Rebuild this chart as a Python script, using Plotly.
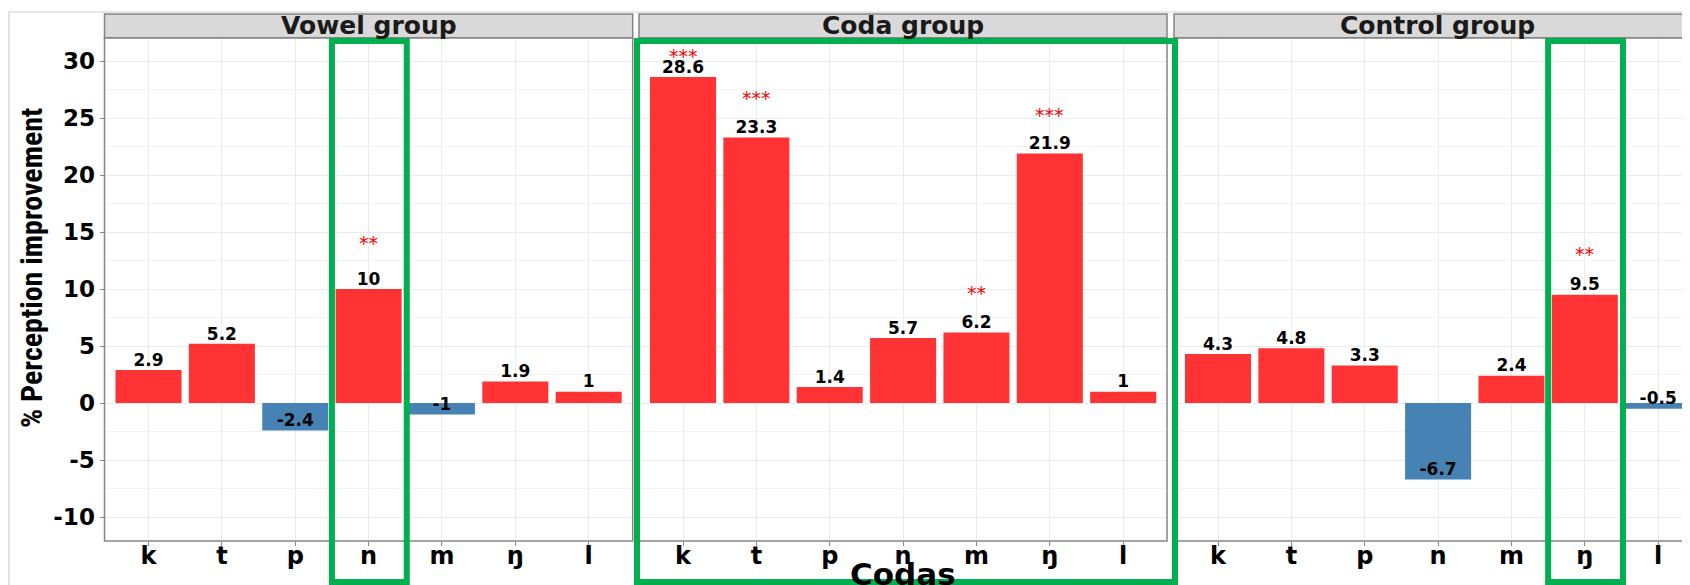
import plotly.graph_objects as go

# ---------------- data ----------------
codas = ['k', 't', 'p', 'n', 'm', 'ŋ', 'l']
groups = ['Vowel group', 'Coda group', 'Control group']

vowel_vals = [2.9, 5.2, -2.4, 10, -1, 1.9, 1]
coda_vals = [28.6, 23.3, 1.4, 5.7, 6.2, 21.9, 1]
control_vals = [4.3, 4.8, 3.3, -6.7, 2.4, 9.5, -0.5]

vowel_sig = ['', '', '', '**', '', '', '']
coda_sig = ['***', '***', '', '', '**', '***', '']
control_sig = ['', '', '', '', '', '**', '']

vowel_sig_y = [None, None, None, 14.4, None, None, None]
coda_sig_y = [30.8, 27.1, None, None, 10.0, 25.6, None]
control_sig_y = [None, None, None, None, None, 13.4, None]

y_ticks = [-10, -5, 0, 5, 10, 15, 20, 25, 30]

highlight = {0: 'n', 2: 'ŋ'}  # green boxes around single codas

# ---------------- style ----------------
W, H = 1690, 585
OFF = 8  # page body margin
RED = '#FF3333'
BLUE = '#4682B4'
GREEN = '#00B050'
BORDER = '#858585'
FONT = 'DejaVu Sans'

panel_px = [(104.5, 632.7), (639.0, 1167.0), (1174.0, 1702.0)]
unit_px = 528.2 / 7.2
plot_top_px, plot_bot_px = 37.7, 541.0
strip_top_px = 14.0


def px_x(x):
    return (x - OFF) / W


def px_y(y):
    return 1 - (y - OFF) / H


fig = go.Figure()
values = [vowel_vals, coda_vals, control_vals]
sigs = [vowel_sig, coda_sig, control_sig]
sig_ys = [vowel_sig_y, coda_sig_y, control_sig_y]
xpos = list(range(1, len(codas) + 1))

for i, vals in enumerate(values):
    xa = 'x' if i == 0 else f'x{i+1}'
    ya = 'y' if i == 0 else f'y{i+1}'
    fig.add_trace(go.Bar(
        x=xpos, y=vals, width=0.9,
        marker=dict(color=[RED if v >= 0 else BLUE for v in vals], line=dict(width=0)),
        xaxis=xa, yaxis=ya, showlegend=False, hoverinfo='skip'))
    fig.add_trace(go.Scatter(
        x=xpos, y=vals, mode='text', text=[f'{v:g}' for v in vals],
        textposition='top center',
        textfont=dict(family=FONT, size=17, color='#000000', weight='bold'),
        xaxis=xa, yaxis=ya, showlegend=False, hoverinfo='skip'))
    sx = [x for x, s in zip(xpos, sigs[i]) if s]
    sy = [y for y, s in zip(sig_ys[i], sigs[i]) if s]
    st = [s for s in sigs[i] if s]
    for x, y, s in zip(sx, sy, st):
        fig.add_annotation(x=x, y=y, xref=xa, yref=ya, text=s, showarrow=False,
                           xanchor='center', yshift=-4,
                           font=dict(family=FONT, size=19, color='#FF0000'))

layout = dict(
    width=W, height=H, autosize=False,
    margin=dict(l=0, r=0, t=0, b=0),
    paper_bgcolor='white', plot_bgcolor='white',
    bargap=0.1,
)

ydom = [px_y(plot_bot_px), px_y(plot_top_px)]
yrange = [-12.1, 32.05]
for i in range(3):
    x0p, x1p = panel_px[i]
    d1 = min(1.0, px_x(x1p))
    xr = [0.4, 0.4 + (d1 * W + OFF - x0p) / unit_px]
    xkey = 'xaxis' if i == 0 else f'xaxis{i+1}'
    ykey = 'yaxis' if i == 0 else f'yaxis{i+1}'
    ya = 'y' if i == 0 else f'y{i+1}'
    xa = 'x' if i == 0 else f'x{i+1}'
    layout[xkey] = dict(
        domain=[px_x(x0p), d1], anchor=ya, range=xr,
        tickmode='array', tickvals=xpos, ticktext=codas,
        ticks='outside', ticklen=4, tickcolor=BORDER, tickwidth=1,
        ticklabelstandoff=-11,
        tickfont=dict(family=FONT, size=24, color='#000000', weight='bold'),
        showgrid=True, gridcolor='#EBEBEB', gridwidth=1,
        zeroline=False, showline=False, fixedrange=True)
    layout[ykey] = dict(
        domain=ydom, anchor=xa, range=yrange,
        tickmode='array', tickvals=y_ticks, ticktext=[str(t) for t in y_ticks],
        ticks='outside' if i == 0 else '', ticklen=4, tickcolor=BORDER, tickwidth=1,
        showticklabels=(i == 0),
        tickfont=dict(family=FONT, size=23, color='#000000', weight='bold'),
        showgrid=True, gridcolor='#EBEBEB', gridwidth=1,
        minor=dict(dtick=2.5, tick0=0, showgrid=True, gridcolor='#F3F3F3', gridwidth=0.7),
        zeroline=False, showline=False, fixedrange=True)
fig.update_layout(**layout)

shapes = []
# outer light border
shapes.append(dict(type='rect', xref='paper', yref='paper',
                   x0=px_x(9), x1=1.02, y0=-0.02, y1=px_y(12),
                   line=dict(color='#D0D0D0', width=1.2), fillcolor='rgba(0,0,0,0)', layer='below'))
for i in range(3):
    x0p, x1p = panel_px[i]
    # strip
    shapes.append(dict(type='rect', xref='paper', yref='paper',
                       x0=px_x(x0p), x1=px_x(x1p) if i < 2 else 1.02,
                       y0=px_y(plot_top_px), y1=px_y(strip_top_px),
                       line=dict(color=BORDER, width=1.5), fillcolor='#D9D9D9'))
    # panel border
    if i < 2:
        shapes.append(dict(type='rect', xref='paper', yref='paper',
                           x0=px_x(x0p), x1=px_x(x1p), y0=px_y(plot_bot_px), y1=px_y(plot_top_px),
                           line=dict(color=BORDER, width=1.5), fillcolor='rgba(0,0,0,0)'))
    else:
        shapes.append(dict(type='path', xref='paper', yref='paper',
                           path=f'M 1.02 {px_y(plot_top_px)} L {px_x(x0p)} {px_y(plot_top_px)} '
                                f'L {px_x(x0p)} {px_y(plot_bot_px)} L 1.02 {px_y(plot_bot_px)}',
                           line=dict(color=BORDER, width=1.5)))
    fig.add_annotation(xref='paper', yref='paper', x=(px_x(x0p) + px_x(x1p)) / 2,
                       y=(px_y(plot_top_px) + px_y(strip_top_px)) / 2,
                       text=groups[i], showarrow=False, xanchor='center', yanchor='middle',
                       font=dict(family=FONT, size=25, color='#1A1A1A', weight='bold'))

# green highlight boxes
box_top, box_bot = px_y(41), px_y(582)
for i, c in highlight.items():
    xa = 'x' if i == 0 else f'x{i+1}'
    k = codas.index(c) + 1
    shapes.append(dict(type='rect', xref=xa, yref='paper', x0=k - 0.5, x1=k + 0.52,
                       y0=box_bot, y1=box_top, line=dict(color=GREEN, width=6),
                       fillcolor='rgba(0,0,0,0)'))
shapes.append(dict(type='rect', xref='paper', yref='paper', x0=px_x(637), x1=px_x(1175),
                   y0=box_bot, y1=box_top, line=dict(color=GREEN, width=6),
                   fillcolor='rgba(0,0,0,0)'))
fig.update_layout(shapes=shapes)

# axis titles
fig.add_annotation(xref='paper', yref='paper', x=px_x(31), y=px_y(268), textangle=-90,
                   text='% Perception improvement', showarrow=False,
                   xanchor='center', yanchor='middle',
                   font=dict(family='Liberation Sans Narrow, Roboto Condensed, Liberation Sans', size=30,
                             color='#000000', weight='bold'))
fig.add_annotation(xref='paper', yref='paper', x=px_x(903), y=px_y(574),
                   text='Codas', showarrow=False, xanchor='center', yanchor='middle',
                   font=dict(family=FONT, size=31, color='#000000', weight='bold'))

fig.write_html('out.html')
